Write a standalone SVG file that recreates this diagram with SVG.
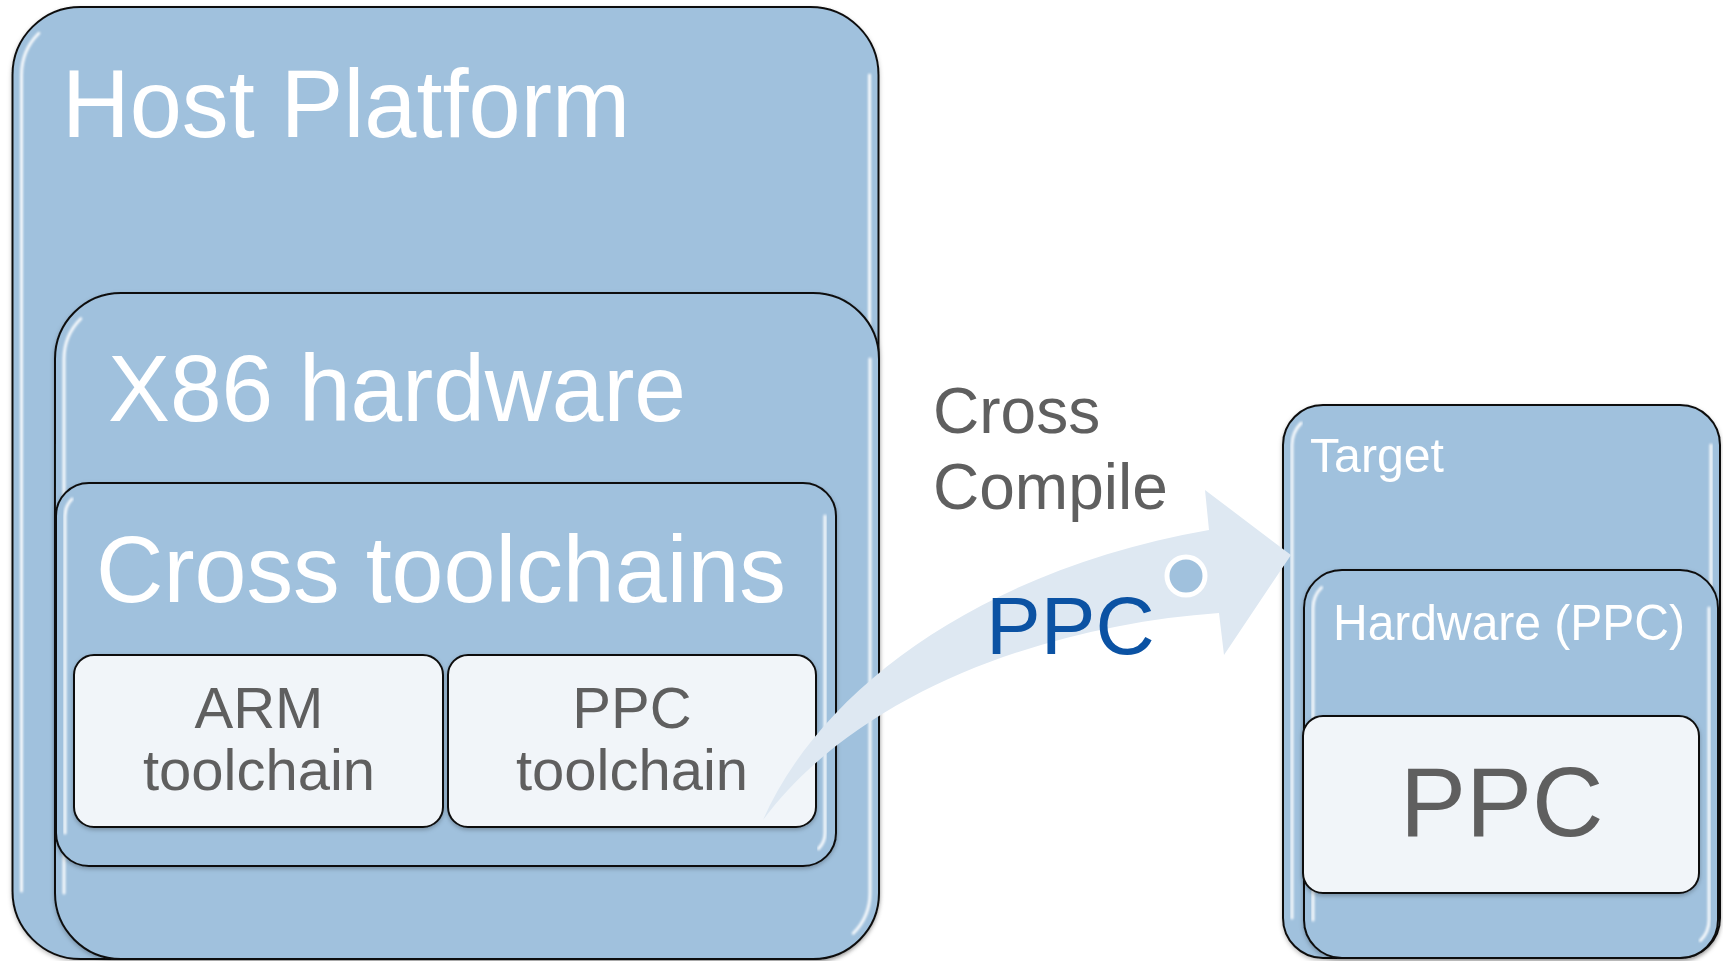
<svg xmlns="http://www.w3.org/2000/svg" width="1723" height="961" viewBox="0 0 1723 961">
  <defs>
    <style>
      .box { fill: #a0c1dd; stroke: #111; stroke-width: 2; filter: url(#shadow); }
      .card { fill: #f1f5f9; stroke: #111; stroke-width: 2; filter: url(#shadow); }
      .gloss { fill: none; stroke: #ffffff; stroke-width: 3; stroke-opacity: 0.9; stroke-linecap: round; filter: url(#soft); }
      .gloss-faint { fill: none; stroke: #ffffff; stroke-width: 3; stroke-opacity: 0.7; stroke-linecap: round; filter: url(#soft); }
      .t-white { font-family: "Liberation Sans", Arial, sans-serif; fill: #ffffff; }
      .t-gray { font-family: "Liberation Sans", Arial, sans-serif; fill: #5f5f5f; }
      .t-blue { font-family: "Liberation Sans", Arial, sans-serif; fill: #0b52a3; }
      .flow { fill: #dee8f2; }
    </style>
    <filter id="soft" x="-20%" y="-5%" width="140%" height="110%">
      <feGaussianBlur stdDeviation="0.8"/>
    </filter>
    <filter id="shadow" x="-5%" y="-5%" width="110%" height="110%">
      <feDropShadow dx="0" dy="2" stdDeviation="2" flood-color="#000000" flood-opacity="0.25"/>
    </filter>
  </defs>

  <rect width="1723" height="961" fill="#ffffff"/>

  <!-- Host side -->
  <g id="host-platform">
    <rect class="box" x="12.5" y="7" width="866" height="952" rx="68" ry="68"/>
    <path class="gloss" d="M38.8,33.3 A59,59 0 0 0 21.5,75 L21.5,891"/>
    <path class="gloss" d="M869.5,75 L869.5,891 A59,59 0 0 1 852.2,932.7"/>
    <text class="t-white" x="62" y="137" font-size="96" textLength="568" lengthAdjust="spacingAndGlyphs">Host Platform</text>
  </g>

  <g id="x86-hardware">
    <rect class="box" x="55" y="293" width="824" height="666" rx="66" ry="66"/>
    <path class="gloss" d="M80.7,318.7 A57,57 0 0 0 64,359 L64,893"/>
    <path class="gloss" d="M870,359 L870,893 A57,57 0 0 1 853.3,933.3"/>
    <text class="t-white" x="108" y="421" font-size="95" textLength="578" lengthAdjust="spacingAndGlyphs">X86 hardware</text>
  </g>

  <g id="cross-toolchains">
    <rect class="box" x="56" y="483" width="780" height="383" rx="33" ry="33"/>
    <path class="gloss" d="M72,499 A24,24 0 0 0 65,516 L65,833"/>
    <path class="gloss" d="M825,516 L825,833 A22,22 0 0 1 818.6,848.6"/>
    <text class="t-white" x="96" y="602" font-size="95" textLength="690" lengthAdjust="spacingAndGlyphs">Cross toolchains</text>
  </g>

  <g id="arm-toolchain">
    <rect class="card" x="74" y="655" width="369" height="172" rx="20" ry="20"/>
    <path class="gloss-faint" d="M435,675 L435,807"/>
    <text class="t-gray" x="259" y="728" font-size="58" text-anchor="middle">ARM</text>
    <text class="t-gray" x="259" y="790" font-size="58" text-anchor="middle">toolchain</text>
  </g>

  <g id="ppc-toolchain">
    <rect class="card" x="448" y="655" width="368" height="172" rx="20" ry="20"/>
    <path class="gloss-faint" d="M808,675 L808,807"/>
    <text class="t-gray" x="632" y="728" font-size="58" text-anchor="middle">PPC</text>
    <text class="t-gray" x="632" y="790" font-size="58" text-anchor="middle">toolchain</text>
  </g>

  <!-- Target side -->
  <g id="target">
    <rect class="box" x="1283" y="405" width="437" height="553" rx="40" ry="40"/>
    <path class="gloss" d="M1301.1,423.1 A31,31 0 0 0 1292,445 L1292,918"/>
    <path class="gloss" d="M1711,445 L1711,918 A31,31 0 0 1 1701.9,939.9"/>
    <text class="t-white" x="1310" y="472" font-size="49" textLength="134" lengthAdjust="spacingAndGlyphs">Target</text>
  </g>

  <g id="hardware-ppc">
    <rect class="box" x="1304" y="570" width="414" height="388" rx="38" ry="38"/>
    <path class="gloss" d="M1321.5,587.5 A29,29 0 0 0 1313,608 L1313,920"/>
    <path class="gloss" d="M1709,608 L1709,920 A29,29 0 0 1 1700.5,940.5"/>
    <text class="t-white" x="1333" y="640" font-size="50" textLength="352" lengthAdjust="spacingAndGlyphs">Hardware (PPC)</text>
  </g>

  <g id="ppc-core">
    <rect class="card" x="1303" y="716" width="396" height="177" rx="20" ry="20"/>
    <path class="gloss-faint" d="M1691,736 L1691,873"/>
    <text class="t-gray" x="1400" y="836" font-size="99">PPC</text>
  </g>

  <!-- Cross-compile flow -->
  <g id="connectors">
    <path class="flow" d="M763,820 C820,690 980,570 1209,530 L1205,490 L1291,555 L1224,655 L1219,613 C1050,625 860,690 763,820 Z"/>
    <circle cx="1186" cy="576" r="19" fill="#a0c1dd" stroke="#ffffff" stroke-width="5"/>
    <text class="t-blue" x="986" y="654" font-size="82">PPC</text>
    <text class="t-gray" x="933" y="433" font-size="64">Cross</text>
    <text class="t-gray" x="933" y="509" font-size="64">Compile</text>
  </g>
</svg>
